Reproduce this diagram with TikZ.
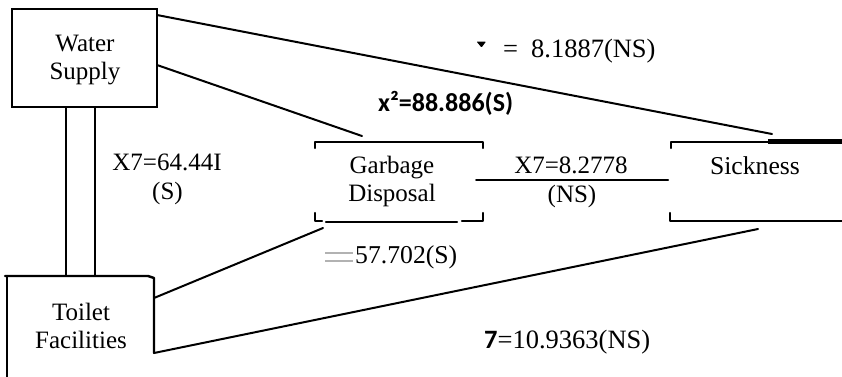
\documentclass[tikz,border=0pt]{standalone}
\usepackage{fontspec}
\setmainfont{Liberation Serif}
\newfontfamily\carl{Carlito}
\begin{document}
\begin{tikzpicture}[x=1pt,y=-1pt,
  lbl/.style={font=\fontsize{25}{28}\selectfont, inner sep=0pt, align=center},
  biglbl/.style={font=\fontsize{26.5}{28}\selectfont, inner sep=0pt},
  conn/.style={line width=2pt, line cap=round},
  boxline/.style={line width=2.4pt, line cap=round, line join=round},
  eqline/.style={gray!60, line width=1.6pt}]
\useasboundingbox (0,0) rectangle (842,376);

% Water Supply box
\node[draw, line width=2.4pt, minimum width=145pt, minimum height=98pt, inner sep=0pt] (water) at (84.5,58) {};
\node[lbl] (waterlbl) at (85,60.4) {Water\\Supply};

% Toilet Facilities (open box)
\coordinate (tl1) at (5,276);
\coordinate (tl2) at (148,276);
\coordinate (tl3) at (154,278);
\coordinate (toB) at (154,353);
\coordinate (tlL) at (7,276);
\coordinate (tlLb) at (7,377);
\draw[boxline] (tl1) -- (tl2) -- (tl3) -- (toB);
\draw[boxline] (tlL) -- (tlLb);
\node[lbl] (toiletlbl) at (81,325.5) {Toilet\\Facilities};

% Garbage Disposal brackets
\coordinate (g1) at (315,148); \coordinate (g2) at (315,142);
\coordinate (g3) at (483,142); \coordinate (g4) at (483,148);
\draw[boxline] (g1) -- (g2) -- (g3) -- (g4);
\coordinate (g5) at (315,213); \coordinate (g6) at (315,221); \coordinate (g7) at (322,221);
\draw[boxline] (g5) -- (g6) -- (g7);
\coordinate (g8) at (326,222); \coordinate (g9) at (457,222);
\draw[boxline] (g8) -- (g9);
\coordinate (g10) at (462,221); \coordinate (g11) at (483,221); \coordinate (g12) at (483,213);
\draw[boxline] (g10) -- (g11) -- (g12);
\node[lbl] (garblbl) at (392,181.2) {Garbage\\Disposal};

% Sickness brackets
\coordinate (s1) at (671,148); \coordinate (s2) at (671,142); \coordinate (s3) at (768,142);
\coordinate (s4) at (842,141);
\draw[boxline] (s1) -- (s2) -- (s3);
\draw[line width=5pt] (s3 |- s4) -- (s4);
\coordinate (s5) at (670,213); \coordinate (s6) at (670,221); \coordinate (s7) at (842,221);
\draw[boxline] (s5) -- (s6) -- (s7);
\node[lbl, font=\fontsize{25.7}{28}\selectfont, anchor=base] (sicklbl) at (755,174) {Sickness};

% Connectors
\coordinate (wsA) at (157,15);
\coordinate (wsB) at (157,65);
\coordinate (sickTop) at (772,134);
\coordinate (garbTop) at (362,136);
\coordinate (toA) at (154,298);
\coordinate (garbBot) at (323,228);
\coordinate (sickBot) at (758,229);
\coordinate (gm1) at (476,180);
\coordinate (gm2) at (668,180);
\draw[conn] (wsA) -- (sickTop);
\draw[conn] (wsB) -- (garbTop);
\draw[conn] (toA) -- (garbBot);
\draw[conn] (toB) -- (sickBot);
\draw[conn] (gm1) -- (gm2);

% double line between Water Supply and Toilet Facilities
\coordinate (d1a) at (66,107); \coordinate (d1b) at (66,277);
\coordinate (d2a) at (95,107); \coordinate (d2b) at (95,277);
\draw[line width=2.2pt] (d1a) -- (d1b);
\draw[line width=2.2pt] (d2a) -- (d2b);

% Labels
\node[lbl, anchor=base] (l1a) at (167,170) {X7=64.44I};
\node[lbl, anchor=base] (l1b) at (167.5,199) {(S)};
\node[lbl, anchor=base] (l2a) at (571,173) {X7=8.2778};
\node[lbl, anchor=base] (l2b) at (572,202) {(NS)};
\node[font=\carl\bfseries\fontsize{26}{28}\selectfont, inner sep=0pt, anchor=base west] (l3) at (378,111) {x²=88.886(S)};
\fill[rounded corners=0.8pt] (476.5,41.5) -- (486,41.5) -- (481.5,47.5) -- cycle;
\node[biglbl, anchor=base west] (l4) at (503,57) {=\hspace{13pt}8.1887(NS)};
\draw[eqline] (325,253) -- (353,253);
\draw[eqline] (325,261) -- (353,261);
\node[lbl, font=\fontsize{25.7}{28}\selectfont, anchor=base west] (l5) at (355,263) {57.702(S)};
\node[biglbl, anchor=base west] (l6) at (484,348) {{\carl\bfseries 7}=10.9363(NS)};
\end{tikzpicture}
\end{document}
